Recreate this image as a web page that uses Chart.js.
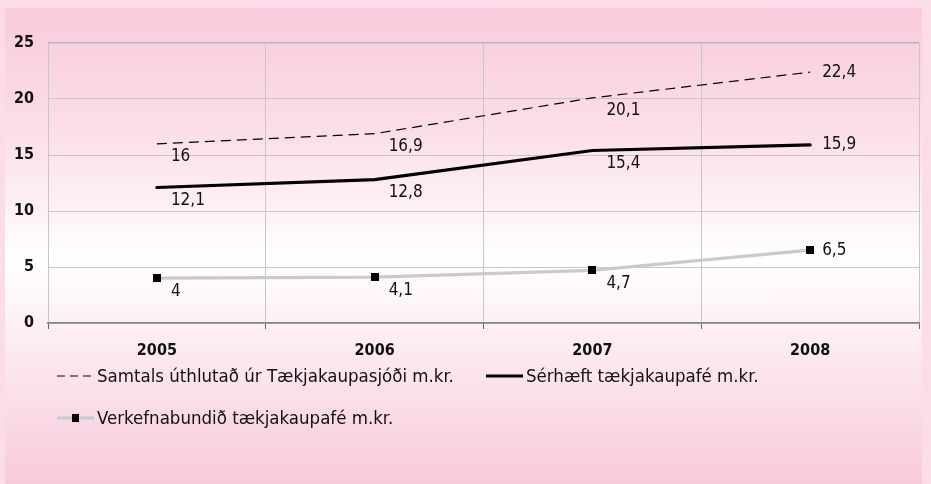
<!DOCTYPE html>
<html>
<head>
<meta charset="utf-8">
<script src="https://cdn.jsdelivr.net/npm/chart.js@4.4.1/dist/chart.umd.min.js"></script>
<style>
  html, body { margin: 0; padding: 0; }
  body { width: 931px; height: 484px; background: #fcdce8; position: relative; overflow: hidden;
         font-family: "DejaVu Sans Condensed", "DejaVu Sans", sans-serif; }
  #panel { position: absolute; left: 5px; top: 8px; width: 917px; height: 476px;
           background: linear-gradient(to bottom, #f8cbdd 0%, #fbdde8 25%, #fdf1f6 42%, #ffffff 53%, #fdeef4 68%, #fadbe7 85%, #f8cadc 100%); }
  #wrap { position: absolute; left: 0; top: 0; width: 931px; height: 484px; }
  .leg { position: absolute; font-size: 18.5px; color: #111; height: 22px; line-height: 22px; white-space: nowrap; }
  .leg canvas { position: absolute; left: 0; top: 0; }
  .leg span { position: absolute; left: 40px; top: 0; }
</style>
</head>
<body>
<div id="panel"></div>
<div id="wrap"><canvas id="chart" width="931" height="484"></canvas></div>
<div class="leg" style="left:57px; top:365px;"><canvas id="lg0" width="40" height="22"></canvas><span>Samtals úthlutað úr Tækjakaupasjóði m.kr.</span></div>
<div class="leg" style="left:486px; top:365px;"><canvas id="lg1" width="40" height="22"></canvas><span>Sérhæft tækjakaupafé m.kr.</span></div>
<div class="leg" style="left:57px; top:407px;"><canvas id="lg2" width="40" height="22"></canvas><span>Verkefnabundið tækjakaupafé m.kr.</span></div>
<script>
// data
const years = ['2005', '2006', '2007', '2008'];
const samtals = [16, 16.9, 20.1, 22.4];
const serhaeft = [12.1, 12.8, 15.4, 15.9];
const verkefna = [4, 4.1, 4.7, 6.5];
const yTicks = [0, 5, 10, 15, 20, 25];

const FONT = '"DejaVu Sans Condensed", "DejaVu Sans", sans-serif';
const fmt = v => String(v).replace('.', ',');

// value labels next to each point
const pointLabels = {
    id: 'pointLabels',
    afterDatasetsDraw(chart) {
        const ctx = chart.ctx;
        ctx.save();
        ctx.font = '17px ' + FONT;
        ctx.fillStyle = '#111';
        ctx.textAlign = 'left';
        ctx.textBaseline = 'middle';
        chart.data.datasets.forEach((ds, di) => {
            const meta = chart.getDatasetMeta(di);
            meta.data.forEach((pt, i) => {
                const last = i === meta.data.length - 1;
                const x = pt.x + (last ? 12 : 14);
                const y = pt.y + (last ? 0 : 13);
                ctx.fillText(fmt(ds.data[i]), x, y);
            });
        });
        ctx.restore();
    }
};

const squarePoint = (() => {
    const c = document.createElement('canvas');
    c.width = 8; c.height = 8;
    const g = c.getContext('2d');
    g.fillStyle = '#000';
    g.fillRect(0, 0, 8, 8);
    return c;
})();

new Chart(document.getElementById('chart'), {
    type: 'line',
    data: {
        labels: years,
        datasets: [
            {
                label: 'Samtals úthlutað úr Tækjakaupasjóði m.kr.',
                data: samtals,
                borderColor: '#000',
                borderWidth: 1.2,
                borderDash: [10, 6],
                pointRadius: 0,
                tension: 0,
            },
            {
                label: 'Sérhæft tækjakaupafé m.kr.',
                data: serhaeft,
                borderColor: '#000',
                borderWidth: 3.2,
                borderCapStyle: 'round',
                pointRadius: 0,
                tension: 0,
            },
            {
                label: 'Verkefnabundið tækjakaupafé m.kr.',
                data: verkefna,
                borderColor: '#c9c9d1',
                borderWidth: 3.2,
                pointStyle: squarePoint,
                pointRadius: 4,
                tension: 0,
            },
        ],
    },
    options: {
        responsive: false,
        animation: false,
        events: [],
        layout: { padding: { top: 43, right: 12, bottom: 0, left: 0 } },
        plugins: {
            legend: { display: false },
            tooltip: { enabled: false },
        },
        scales: {
            x: {
                offset: true,
                afterFit: scale => { scale.height = 161; },
                grid: {
                    offset: true,
                    color: '#c6c6cc',
                    tickColor: '#666',
                    tickLength: 6,
                },
                border: { color: '#86868c', width: 1.8 },
                ticks: {
                    color: '#111',
                    padding: 12,
                    font: { family: FONT, size: 16, weight: 'bold' },
                },
            },
            y: {
                min: 0,
                max: 25,
                afterFit: scale => { scale.width = 48; },
                afterBuildTicks: scale => { scale.ticks = yTicks.map(v => ({ value: v })); },
                grid: {
                    color: ctx => ctx.tick && ctx.tick.value === 25 ? '#b8b8c0' : '#c6c6cc',
                    lineWidth: ctx => ctx.tick && ctx.tick.value === 25 ? 1.5 : 1,
                    drawTicks: false,
                },
                border: { display: false },
                ticks: {
                    color: '#111',
                    padding: 14,
                    font: { family: FONT, size: 16, weight: 'bold' },
                },
            },
        },
    },
    plugins: [pointLabels],
});

// legend samples
function sample(id, draw) {
    const g = document.getElementById(id).getContext('2d');
    draw(g);
}
sample('lg0', g => {
    g.strokeStyle = '#000'; g.lineWidth = 1.2; g.setLineDash([8, 5]);
    g.beginPath(); g.moveTo(0, 11); g.lineTo(37, 11); g.stroke();
});
sample('lg1', g => {
    g.strokeStyle = '#000'; g.lineWidth = 3.2;
    g.beginPath(); g.moveTo(0, 11); g.lineTo(37, 11); g.stroke();
});
sample('lg2', g => {
    g.strokeStyle = '#c9c9d1'; g.lineWidth = 3.2;
    g.beginPath(); g.moveTo(0, 11); g.lineTo(37, 11); g.stroke();
    g.fillStyle = '#000'; g.fillRect(15, 7, 7, 8);
});
</script>
</body>
</html>
